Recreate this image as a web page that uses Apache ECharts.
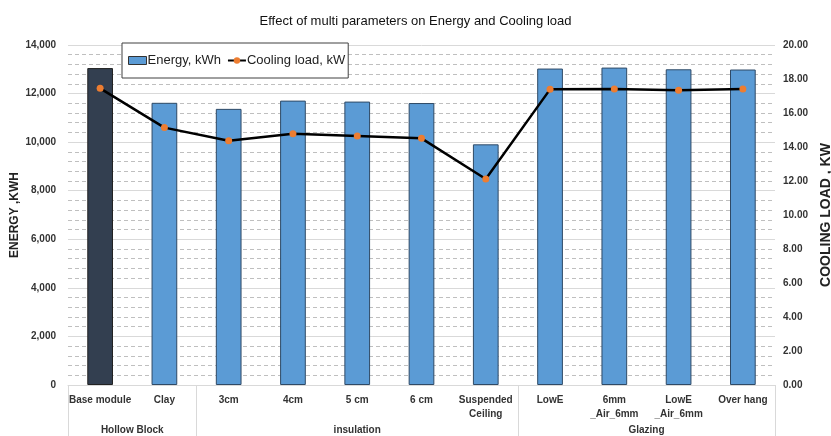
<!DOCTYPE html>
<html><head><meta charset="utf-8">
<script src="https://cdn.jsdelivr.net/npm/echarts@6/dist/echarts.min.js"></script>
<style>html,body{margin:0;padding:0;background:#fff}#c{width:831px;height:436px}</style>
</head><body><div id="c"></div>
<script>
var categories = ['Base module','Clay','3cm','4cm','5 cm','6 cm','Suspended\nCeiling','LowE','6mm\n_Air_6mm','LowE\n_Air_6mm','Over hang'];
var energy = [13050, 11620, 11370, 11710, 11670, 11610, 9910, 13030, 13070, 13000, 12990];
var coolingLoad = [17.45, 15.14, 14.37, 14.78, 14.65, 14.51, 12.12, 17.39, 17.41, 17.34, 17.41];
var groups = [{name:'Hollow Block', start:0, end:2}, {name:'insulation', start:2, end:7}, {name:'Glazing', start:7, end:11}];
var energyTicks = {min:0, max:14000, interval:2000};
var loadTicks = {min:0, max:20, interval:2};

// second-level axis: half-category slots (0..22)
var n = categories.length * 2 + 1;
var groupAxis = [];
var boundaries = {};
for (var i = 0; i < n; i++) groupAxis.push('');
groups.forEach(function(g){
  groupAxis[g.start + g.end] = g.name;
  boundaries[g.start*2] = true; boundaries[g.end*2] = true;
});

var font = '"Liberation Sans", Arial, sans-serif';
var chart = echarts.init(document.getElementById('c'));
chart.setOption({
  animation:false,
  textStyle:{fontFamily:font},
  title:{text:'Effect of multi parameters on Energy and Cooling load', left:'center', top:10,
    textStyle:{fontSize:13, fontWeight:'normal', color:'#111', fontFamily:font}},
  graphic:[{type:'text', x:15, y:215, rotation:Math.PI/2,
    style:{text:'ENERGY ,KWH', font:'bold 12px "Liberation Sans", Arial, sans-serif', fill:'#222',
      align:'center', verticalAlign:'middle'}}],
  legend:{left:122, top:43, itemGap:6, padding:[11,3,11,6], orient:'horizontal',
    borderColor:'#404040', borderWidth:1, backgroundColor:'#fff', z:10,
    textStyle:{fontSize:13, color:'#222', padding:[0,0,0,-4]},
    data:[{name:'Energy, kWh', icon:'rect', itemStyle:{borderColor:'#333', borderWidth:1}}, {name:'Cooling load, kW'}],
    itemWidth:18, itemHeight:8},
  grid:{left:68, right:56, top:45, bottom:51, containLabel:false, outerBoundsMode:'none'},
  xAxis:[{
    type:'category', data:categories, position:'bottom',
    axisLine:{lineStyle:{color:'#d9d9d9'}}, axisTick:{show:false},
    axisLabel:{interval:0, fontSize:10, fontWeight:'bold', color:'#333', margin:8, lineHeight:14}
  },{
    type:'category', data:groupAxis, position:'bottom', boundaryGap:false,
    axisLine:{show:false},
    axisTick:{show:true, length:52, interval:function(idx){return !!boundaries[idx];}, lineStyle:{color:'#d9d9d9'}},
    axisLabel:{interval:0, fontSize:10, fontWeight:'bold', color:'#333', margin:40}
  }],
  yAxis:[{
    type:'value', min:energyTicks.min, max:energyTicks.max, interval:energyTicks.interval,
    axisLine:{show:false}, axisTick:{show:false},
    axisLabel:{fontSize:10, fontWeight:'bold', color:'#333', margin:12,
      formatter:function(v){return v.toLocaleString('en-US');}},
    splitLine:{lineStyle:{color:'#d9d9d9', width:1}},
    minorTick:{show:false, splitNumber:5},
    minorSplitLine:{show:true, lineStyle:{color:'#bfbfbf', type:[4,3], width:1}}
  },{
    type:'value', min:loadTicks.min, max:loadTicks.max, interval:loadTicks.interval,
    name:'COOLING LOAD , KW', nameLocation:'middle', nameGap:44, nameRotate:90,
    nameTextStyle:{fontSize:14, fontWeight:'bold', color:'#222'},
    axisLine:{show:false}, axisTick:{show:false}, splitLine:{show:false},
    axisLabel:{fontSize:10, fontWeight:'bold', color:'#333', margin:8,
      formatter:function(v){return v.toFixed(2);}}
  }],
  series:[{
    name:'Energy, kWh', type:'bar', xAxisIndex:0, yAxisIndex:0, barWidth:'40%',
    data:energy.map(function(v,i){
      return i===0 ? {value:v, itemStyle:{color:'#333f50', borderColor:'#222', borderWidth:1}} : v;
    }),
    itemStyle:{color:'#5b9bd5', borderColor:'#2f4a66', borderWidth:1}
  },{
    name:'Cooling load, kW', type:'line', xAxisIndex:0, yAxisIndex:1, data:coolingLoad,
    lineStyle:{color:'#000', width:2.5}, itemStyle:{color:'#ed7d31'},
    symbol:'circle', symbolSize:7, z:5
  }]
});
</script></body></html>
